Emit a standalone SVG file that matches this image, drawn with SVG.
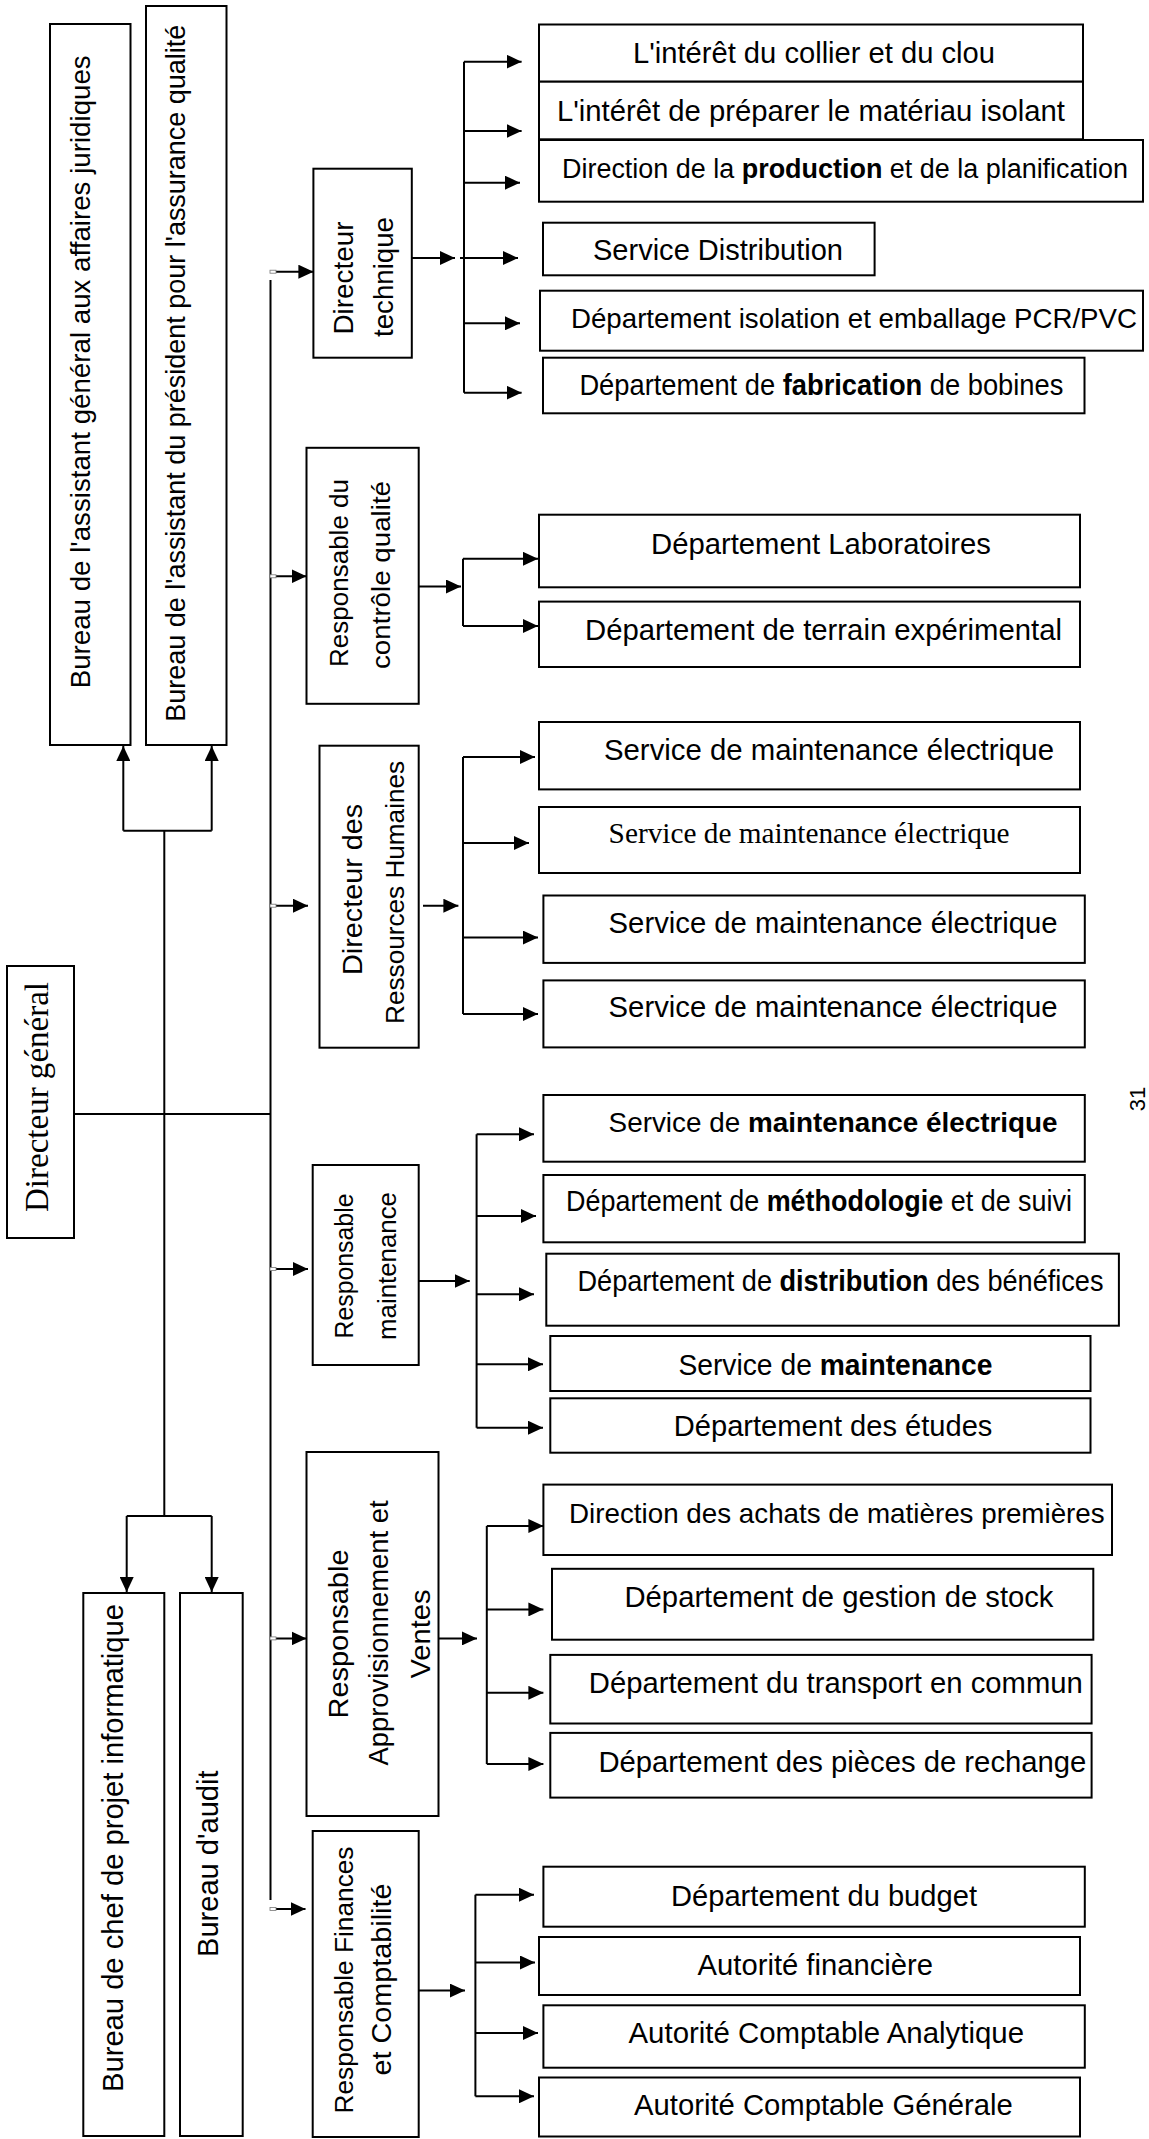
<svg xmlns="http://www.w3.org/2000/svg" width="1149" height="2139" viewBox="0 0 1149 2139">
<style>
.box{fill:#fff;stroke:#000;stroke-width:2}
.t{font-family:"Liberation Sans",Arial,sans-serif;font-size:29px;fill:#000}
.m{font-family:"Liberation Sans",Arial,sans-serif;font-size:27px;fill:#000;text-anchor:middle}
.s{font-family:"Liberation Serif","Times New Roman",serif;fill:#000}
.ln{stroke:#000;stroke-width:2;fill:none}
.ar{stroke:#000;stroke-width:2;fill:none;marker-end:url(#ah)}
.tick{fill:#fff;stroke:#777;stroke-width:0.8}
</style>
<defs>
<marker id="ah" markerUnits="userSpaceOnUse" markerWidth="15" markerHeight="14" refX="15" refY="7" orient="auto">
<path d="M0,0 L15,7 L0,14 z" fill="#000"/>
</marker>
</defs>
<rect width="1149" height="2139" fill="#fff"/>

<g id="connectors">
<path class="ln" d="M74,1114 H270.5"/>
<path class="ln" d="M164.3,830.7 V1516"/>
<path class="ln" d="M123.3,830.7 H211.7"/>
<path class="ar" d="M123.3,830.7 V746"/>
<path class="ar" d="M211.7,830.7 V746"/>
<path class="ln" d="M126.7,1516 H211.7"/>
<path class="ar" d="M126.7,1516 V1592"/>
<path class="ar" d="M211.7,1516 V1592"/>
<path class="ln" d="M270.5,280 V1900"/>
<path class="ar" d="M271,271.7 H313.4"/>
<path class="ar" d="M271,576.3 H306.5"/>
<path class="ar" d="M271,905.7 H308"/>
<path class="ar" d="M271,1269 H308"/>
<path class="ar" d="M271,1638.4 H306.5"/>
<path class="ar" d="M271,1909 H305.5"/>
<rect class="tick" x="270" y="270.2" width="6" height="3"/>
<rect class="tick" x="270" y="574.8" width="6" height="3"/>
<rect class="tick" x="270" y="904.2" width="6" height="3"/>
<rect class="tick" x="270" y="1267.5" width="6" height="3"/>
<rect class="tick" x="270" y="1636.9" width="6" height="3"/>
<rect class="tick" x="270" y="1907.5" width="6" height="3"/>
<!-- Directeur technique -->
<path class="ar" d="M411.8,258 H455"/>
<path class="ln" d="M464,61.7 V392.7"/>
<path class="ar" d="M464,61.7 H521.6"/>
<path class="ar" d="M464,131 H521.6"/>
<path class="ar" d="M464,182.7 H520"/>
<path class="ar" d="M460,258 H518"/>
<path class="ar" d="M464,323.3 H520"/>
<path class="ar" d="M464,392.7 H521.6"/>
<!-- Qualite -->
<path class="ar" d="M418.7,586.5 H461"/>
<path class="ln" d="M463,558.8 V626"/>
<path class="ar" d="M463,558.8 H538"/>
<path class="ar" d="M463,626 H538"/>
<!-- RH -->
<path class="ar" d="M423,905.7 H458.4"/>
<path class="ln" d="M463,757 V1014"/>
<path class="ar" d="M463,757 H535"/>
<path class="ar" d="M463,843 H529"/>
<path class="ar" d="M463,937.6 H538"/>
<path class="ar" d="M463,1014 H538"/>
<!-- Maintenance -->
<path class="ar" d="M418.7,1281 H469.7"/>
<path class="ln" d="M476.6,1134.3 V1427.7"/>
<path class="ar" d="M476.6,1134.3 H534"/>
<path class="ar" d="M476.6,1216 H536"/>
<path class="ar" d="M476.6,1294.3 H534"/>
<path class="ar" d="M476.6,1364.3 H543"/>
<path class="ar" d="M476.6,1427.7 H543"/>
<!-- Appro -->
<path class="ar" d="M438.6,1638.4 H477"/>
<path class="ln" d="M486.8,1526 V1764"/>
<path class="ar" d="M486.8,1526 H543.4"/>
<path class="ar" d="M486.8,1609.4 H543.4"/>
<path class="ar" d="M486.8,1692.8 H543.4"/>
<path class="ar" d="M486.8,1764 H543.4"/>
<!-- Finances -->
<path class="ar" d="M418.7,1990.6 H465"/>
<path class="ln" d="M475.4,1894.7 V2096.3"/>
<path class="ar" d="M475.4,1894.7 H534"/>
<path class="ar" d="M475.4,1962.5 H535"/>
<path class="ar" d="M475.4,2033 H538"/>
<path class="ar" d="M475.4,2096.3 H534"/>
</g>

<!-- Left column -->
<g id="n-juridique">
<rect class="box" x="50" y="24" width="80.5" height="721"/>
<text class="t" style="font-size:28px" transform="translate(90,688.3) rotate(-90)" textLength="633" lengthAdjust="spacingAndGlyphs">Bureau de l'assistant général aux affaires juridiques</text>
</g>
<g id="n-qualite-president">
<rect class="box" x="146" y="6" width="80.5" height="739"/>
<text class="t" style="font-size:27px" transform="translate(185,721.7) rotate(-90)" textLength="697" lengthAdjust="spacingAndGlyphs">Bureau de l'assistant du président pour l'assurance qualité</text>
</g>
<g id="n-dg">
<rect class="box" x="7" y="966" width="67" height="272"/>
<text class="s" font-size="33" transform="translate(48,1212) rotate(-90)" textLength="230" lengthAdjust="spacingAndGlyphs">Directeur général</text>
</g>
<g id="n-informatique">
<rect class="box" x="83.3" y="1593" width="81" height="543"/>
<text class="t" transform="translate(123,2092) rotate(-90)" textLength="488" lengthAdjust="spacingAndGlyphs">Bureau de chef de projet informatique</text>
</g>
<g id="n-audit">
<rect class="box" x="180" y="1593" width="62.7" height="543"/>
<text class="t" transform="translate(218,1957) rotate(-90)" textLength="186.5" lengthAdjust="spacingAndGlyphs">Bureau d'audit</text>
</g>

<!-- Managers -->
<g id="n-dir-technique">
<rect class="box" x="313.4" y="168.7" width="98.4" height="189"/>
<text class="m" style="font-size:28px" transform="translate(353,278) rotate(-90)" textLength="113" lengthAdjust="spacingAndGlyphs">Directeur</text>
<text class="m" style="font-size:28px" transform="translate(393,277) rotate(-90)" textLength="120" lengthAdjust="spacingAndGlyphs">technique</text>
</g>
<g id="n-resp-qualite">
<rect class="box" x="306.5" y="447.8" width="112.2" height="256"/>
<text class="m" style="font-size:26px" transform="translate(348,573) rotate(-90)" textLength="188" lengthAdjust="spacingAndGlyphs">Responsable du</text>
<text class="m" style="font-size:26px" transform="translate(390,575) rotate(-90)" textLength="188" lengthAdjust="spacingAndGlyphs">contrôle qualité</text>
</g>
<g id="n-dir-rh">
<rect class="box" x="319.5" y="745.7" width="99.2" height="302"/>
<text class="m" transform="translate(362,889.4) rotate(-90)" textLength="171" lengthAdjust="spacingAndGlyphs">Directeur des</text>
<text class="m" style="font-size:26px" transform="translate(404,892.4) rotate(-90)" textLength="263" lengthAdjust="spacingAndGlyphs">Ressources Humaines</text>
</g>
<g id="n-resp-maintenance">
<rect class="box" x="312.7" y="1165" width="106" height="200"/>
<text class="m" style="font-size:25px" transform="translate(353,1266) rotate(-90)" textLength="145" lengthAdjust="spacingAndGlyphs">Responsable</text>
<text class="m" style="font-size:25px" transform="translate(396,1266) rotate(-90)" textLength="148" lengthAdjust="spacingAndGlyphs">maintenance</text>
</g>
<g id="n-resp-appro">
<rect class="box" x="306.5" y="1452" width="132" height="364"/>
<text class="m" style="font-size:28px" transform="translate(348,1634) rotate(-90)" textLength="169" lengthAdjust="spacingAndGlyphs">Responsable</text>
<text class="m" style="font-size:27px" transform="translate(388,1633) rotate(-90)" textLength="265" lengthAdjust="spacingAndGlyphs">Approvisionnement et</text>
<text class="m" style="font-size:28px" transform="translate(430,1634) rotate(-90)" textLength="89" lengthAdjust="spacingAndGlyphs">Ventes</text>
</g>
<g id="n-resp-finances">
<rect class="box" x="312.7" y="1831" width="106" height="306"/>
<text class="m" style="font-size:26px" transform="translate(353,1980) rotate(-90)" textLength="267" lengthAdjust="spacingAndGlyphs">Responsable Finances</text>
<text class="m" transform="translate(391,1979.5) rotate(-90)" textLength="192" lengthAdjust="spacingAndGlyphs">et Comptabilité</text>
</g>

<!-- Technique subordinates -->
<g id="n-collier">
<rect class="box" x="539" y="24.5" width="544" height="57.2"/>
<text class="t" x="633" y="63" textLength="362" lengthAdjust="spacingAndGlyphs">L'intérêt du collier et du clou</text>
</g>
<g id="n-isolant">
<rect class="box" x="539" y="81.7" width="544" height="57.6"/>
<text class="t" x="557" y="121" textLength="508" lengthAdjust="spacingAndGlyphs">L'intérêt de préparer le matériau isolant</text>
</g>
<g id="n-production">
<rect class="box" x="539" y="140" width="604" height="61.7"/>
<text class="t" style="font-size:27px" x="562" y="178" textLength="566" lengthAdjust="spacingAndGlyphs">Direction de la <tspan font-weight="bold">production</tspan> et de la planification</text>
</g>
<g id="n-distribution">
<rect class="box" x="543" y="222.7" width="331.6" height="52.6"/>
<text class="t" x="593" y="260" textLength="250" lengthAdjust="spacingAndGlyphs">Service Distribution</text>
</g>
<g id="n-pcr-pvc">
<rect class="box" x="540" y="290.7" width="603" height="60"/>
<text class="t" style="font-size:27.5px" x="571" y="328" textLength="566" lengthAdjust="spacingAndGlyphs">Département isolation et emballage PCR/PVC</text>
</g>
<g id="n-bobines">
<rect class="box" x="543" y="357.7" width="541.5" height="55.6"/>
<text class="t" x="579.4" y="395" textLength="484" lengthAdjust="spacingAndGlyphs">Département de <tspan font-weight="bold">fabrication</tspan> de bobines</text>
</g>

<!-- Qualite subordinates -->
<g id="n-laboratoires">
<rect class="box" x="539" y="514.7" width="541" height="72.6"/>
<text class="t" x="651" y="554" textLength="340" lengthAdjust="spacingAndGlyphs">Département Laboratoires</text>
</g>
<g id="n-terrain">
<rect class="box" x="539" y="601.6" width="541" height="65.4"/>
<text class="t" x="585" y="640" textLength="477" lengthAdjust="spacingAndGlyphs">Département de terrain expérimental</text>
</g>

<!-- RH subordinates -->
<g id="n-rh1">
<rect class="box" x="539" y="722" width="541" height="67.4"/>
<text class="t" x="604" y="760" textLength="450" lengthAdjust="spacingAndGlyphs">Service de maintenance électrique</text>
</g>
<g id="n-rh2">
<rect class="box" x="539" y="807" width="541" height="66"/>
<text class="s" font-size="29" x="608.6" y="843" textLength="401" lengthAdjust="spacingAndGlyphs">Service de maintenance électrique</text>
</g>
<g id="n-rh3">
<rect class="box" x="543.4" y="895.5" width="541.4" height="67.4"/>
<text class="t" x="608.6" y="933" textLength="449" lengthAdjust="spacingAndGlyphs">Service de maintenance électrique</text>
</g>
<g id="n-rh4">
<rect class="box" x="543.4" y="980.4" width="541.4" height="67"/>
<text class="t" x="608.6" y="1017" textLength="449" lengthAdjust="spacingAndGlyphs">Service de maintenance électrique</text>
</g>

<!-- Maintenance subordinates -->
<g id="n-m1">
<rect class="box" x="543.4" y="1095" width="541.4" height="66.7"/>
<text class="t" style="font-size:28px" x="608.6" y="1131.7" textLength="449" lengthAdjust="spacingAndGlyphs">Service de <tspan font-weight="bold">maintenance électrique</tspan></text>
</g>
<g id="n-methodologie">
<rect class="box" x="543.4" y="1175" width="541.4" height="67.3"/>
<text class="t" x="566" y="1211" textLength="506" lengthAdjust="spacingAndGlyphs">Département de <tspan font-weight="bold">méthodologie</tspan> et de suivi</text>
</g>
<g id="n-benefices">
<rect class="box" x="546.3" y="1253.7" width="572.6" height="72"/>
<text class="t" x="577.5" y="1291" textLength="526" lengthAdjust="spacingAndGlyphs">Département de <tspan font-weight="bold">distribution</tspan> des bénéfices</text>
</g>
<g id="n-service-maintenance">
<rect class="box" x="550.3" y="1336" width="540.2" height="55"/>
<text class="t" x="678.4" y="1375" textLength="314" lengthAdjust="spacingAndGlyphs">Service de <tspan font-weight="bold">maintenance</tspan></text>
</g>
<g id="n-etudes">
<rect class="box" x="550.3" y="1398.3" width="540.2" height="54.4"/>
<text class="t" x="673.8" y="1436" textLength="318.6" lengthAdjust="spacingAndGlyphs">Département des études</text>
</g>

<!-- Appro subordinates -->
<g id="n-achats">
<rect class="box" x="543.4" y="1484.6" width="568.6" height="70.4"/>
<text class="t" style="font-size:28px" x="569" y="1522.5" textLength="535.7" lengthAdjust="spacingAndGlyphs">Direction des achats de matières premières</text>
</g>
<g id="n-stock">
<rect class="box" x="552" y="1568.8" width="541.3" height="70.9"/>
<text class="t" x="624.5" y="1607" textLength="429" lengthAdjust="spacingAndGlyphs">Département de gestion de stock</text>
</g>
<g id="n-transport">
<rect class="box" x="550.3" y="1654.9" width="541.3" height="68.6"/>
<text class="t" x="588.8" y="1693" textLength="494" lengthAdjust="spacingAndGlyphs">Département du transport en commun</text>
</g>
<g id="n-pieces">
<rect class="box" x="550.3" y="1732.9" width="541.3" height="64.7"/>
<text class="t" x="598.4" y="1772" textLength="488" lengthAdjust="spacingAndGlyphs">Département des pièces de rechange</text>
</g>

<!-- Finances subordinates -->
<g id="n-budget">
<rect class="box" x="543.4" y="1866.7" width="541.4" height="60"/>
<text class="t" x="671" y="1906" textLength="306" lengthAdjust="spacingAndGlyphs">Département du budget</text>
</g>
<g id="n-autorite-fin">
<rect class="box" x="539" y="1937" width="541" height="58"/>
<text class="t" x="697.6" y="1975" textLength="235.4" lengthAdjust="spacingAndGlyphs">Autorité financière</text>
</g>
<g id="n-analytique">
<rect class="box" x="543.4" y="2005.3" width="541.4" height="62.4"/>
<text class="t" x="628.5" y="2043" textLength="395.5" lengthAdjust="spacingAndGlyphs">Autorité Comptable Analytique</text>
</g>
<g id="n-generale">
<rect class="box" x="539" y="2077.5" width="541" height="59"/>
<text class="t" x="634" y="2115" textLength="378.8" lengthAdjust="spacingAndGlyphs">Autorité Comptable Générale</text>
</g>

<text class="m" style="font-size:22px" transform="translate(1145,1099) rotate(-90)">31</text>
</svg>
